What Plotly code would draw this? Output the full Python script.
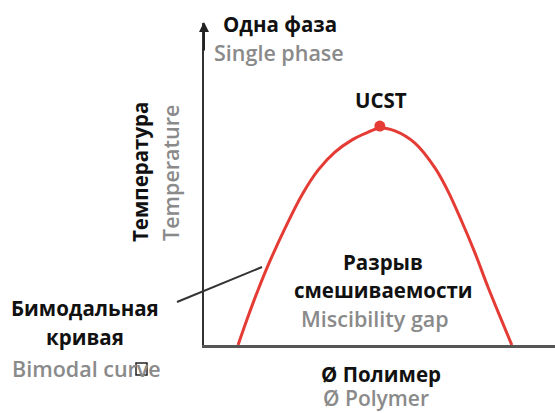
import plotly.graph_objects as go

# Data (polymer fraction, reduced temperature)
phi = [0.097, 0.125, 0.154, 0.188, 0.231, 0.279, 0.325, 0.373, 0.422, 0.462, 0.501,
       0.544, 0.601, 0.658, 0.695, 0.735, 0.772, 0.809, 0.846, 0.877]
temp = [0.0, 0.087, 0.171, 0.261, 0.363, 0.466, 0.543, 0.599, 0.637, 0.658, 0.674,
        0.665, 0.627, 0.550, 0.478, 0.382, 0.286, 0.180, 0.081, 0.0]
ucst_phi = [0.501]
ucst_temp = [0.680]

W, H = 555, 413
L, R, T, B = 204, 0, 23, 68
PW, PH = W - L - R, H - T - B

def px(x):
    return (x - L) / PW

def py(y):
    return (H - B - y) / PH

FONT = "Open Sans"
BLACK = "#111111"
GRAY = "#8a8a8a"
RED = "#e53b35"
BS = 20.5   # bold label size
GS = 21.5   # gray label size

fig = go.Figure()
fig.add_trace(go.Scatter(x=phi, y=temp, mode="lines",
                         line=dict(color=RED, width=3, shape="spline", smoothing=1.0),
                         hoverinfo="skip", showlegend=False))
fig.add_trace(go.Scatter(x=ucst_phi, y=ucst_temp, mode="markers",
                         marker=dict(color=RED, size=11),
                         hoverinfo="skip", showlegend=False))

ann = []
def txt(s, x, y, size, color, weight, xanchor="center", angle=0):
    ann.append(dict(text=s, x=px(x), y=py(y), xref="paper", yref="paper",
                    showarrow=False, xanchor=xanchor, yanchor="middle",
                    textangle=angle,
                    font=dict(family=FONT, size=size, color=color, weight=weight)))

txt("Одна фаза", 221, 24, BS, BLACK, 700, "left")
txt("Single phase", 212, 52, GS, GRAY, 600, "left")
txt("UCST", 381, 100, BS, BLACK, 700)
txt("Температура", 140, 172, BS, BLACK, 700, angle=-90)
txt("Temperature", 170, 173, GS, GRAY, 600, angle=-90)
txt("Разрыв", 383, 262, BS, BLACK, 700)
txt("смешиваемости", 383, 290, BS, BLACK, 700)
txt("Miscibility gap", 375, 318, GS, GRAY, 600)
txt("Бимодальная", 85, 308, BS, BLACK, 700)
txt("кривая", 85, 337, BS, BLACK, 700)
txt("Bimodal curve", 86, 368, GS, GRAY, 600)
txt("Ø Полимер", 381, 374, BS, BLACK, 700)
txt("Ø Polymer", 376, 398, 21, GRAY, 600)

# y-axis arrow head
ann.append(dict(x=px(204), y=py(22), ax=0, ay=30, xref="paper", yref="paper",
                showarrow=True, arrowhead=2,
                arrowsize=1, arrowwidth=2, arrowcolor="#222222", text=""))

shapes = [
    # leader line to the binodal
    dict(type="line", xref="paper", yref="paper", x0=px(177), y0=py(302),
         x1=px(262), y1=py(267), line=dict(color="#333333", width=2)),
    # small box glyph over "Bimodal curve"
    dict(type="rect", xref="paper", yref="paper", x0=px(136), y0=py(375),
         x1=px(147), y1=py(363), line=dict(color="#222222", width=1.5),
         fillcolor="white"),
]

fig.update_layout(
    width=W, height=H,
    margin=dict(l=L, r=R, t=T, b=B),
    paper_bgcolor="white", plot_bgcolor="white",
    annotations=ann, shapes=shapes,
    xaxis=dict(range=[0, 1], showgrid=False, zeroline=False, showticklabels=False,
               ticks="", showline=True, linecolor="#555555", linewidth=2.5),
    yaxis=dict(range=[0, 1], showgrid=False, zeroline=False, showticklabels=False,
               ticks="", showline=True, linecolor="#333333", linewidth=2),
)

fig.write_html("out.html", config={"displayModeBar": False})

# remove the default page margin so the figure sits at the window's corner
with open("out.html", encoding="utf-8") as f:
    html = f.read()
html = html.replace("<head>", "<head><style>html,body{margin:0;padding:0;overflow:hidden}</style>", 1)
with open("out.html", "w", encoding="utf-8") as f:
    f.write(html)
